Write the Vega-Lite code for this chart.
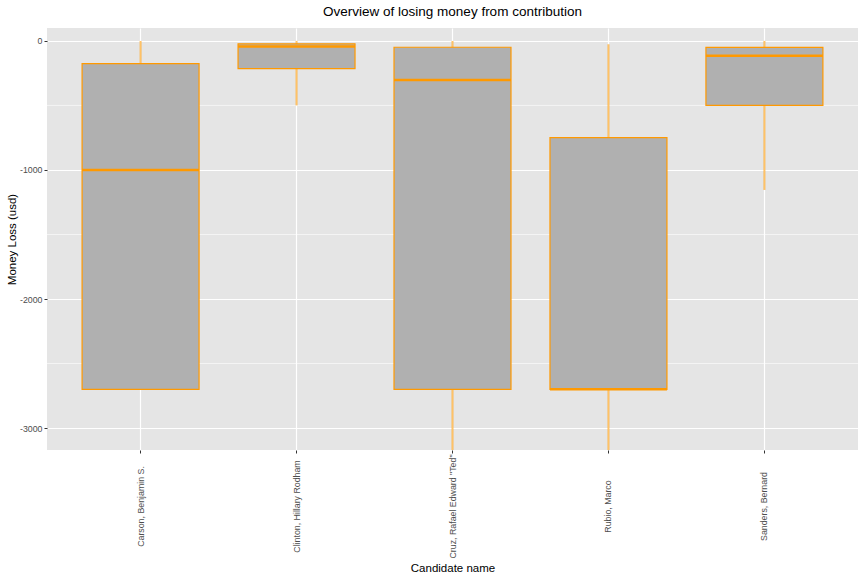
{
  "$schema": "https://vega.github.io/schema/vega-lite/v6.json",
  "width": 811,
  "height": 422,
  "autosize": {"type": "none"},
  "padding": {"left": 47, "top": 28, "right": 6, "bottom": 126},
  "background": "white",
  "title": {"text": "Overview of losing money from contribution", "fontSize": 13.5, "font": "Liberation Sans", "fontWeight": "normal", "color": "black", "anchor": "middle", "offset": 10},
  "config": {
    "view": {"fill": "#E5E5E5", "stroke": null},
    "font": "Liberation Sans",
    "axis": {"titleFont": "Liberation Sans", "labelFont": "Liberation Sans", "titleFontWeight": "normal", "titleFontSize": 11.5, "titleColor": "black", "labelFontSize": 8.8, "labelColor": "#4D4D4D", "tickColor": "#333333", "tickSize": 3, "domain": false, "gridColor": "white", "gridWidth": 1.2, "gridOpacity": 1}
  },
  "datasets": {
    "box": [
      {"candidate": "Carson, Benjamin S.", "lower": -2700, "q1": -2700, "median": -1000, "q3": -176, "upper": 0},
      {"candidate": "Clinton, Hillary Rodham", "lower": -500, "q1": -215, "median": -44, "q3": -23, "upper": 0},
      {"candidate": "Cruz, Rafael Edward \"Ted\"", "lower": -5400, "q1": -2700, "median": -302, "q3": -49, "upper": 0},
      {"candidate": "Rubio, Marco", "lower": -5400, "q1": -2700, "median": -2700, "q3": -750, "upper": -25},
      {"candidate": "Sanders, Bernard", "lower": -1155, "q1": -500, "median": -115, "q3": -50, "upper": 0}
    ],
    "minor": [{"g": -2500}, {"g": -1500}, {"g": -500}]
  },
  "layer": [
    {
      "data": {"name": "minor"},
      "mark": {"type": "rule", "stroke": "white", "strokeWidth": 0.6},
      "encoding": {
        "y": {"field": "g", "type": "quantitative", "scale": {"domain": [-3170, 100], "nice": false, "zero": false}, "axis": {"title": "Money Loss (usd)", "values": [-3000, -2000, -1000, 0], "labelExpr": "'' + datum.value", "grid": true, "titlePadding": 2.5, "labelPadding": 2}}
      }
    },
    {
      "data": {"name": "box"},
      "mark": {"type": "rule", "stroke": "#FF9900", "strokeOpacity": 0.6, "strokeWidth": 2, "clip": true},
      "encoding": {
        "x": {"field": "candidate", "type": "nominal", "sort": null, "scale": {"paddingInner": 0, "paddingOuter": 0.1}, "axis": {"title": "Candidate name", "labelAngle": 270, "labelAlign": "center", "labelBaseline": "middle", "labelPadding": 53, "grid": true, "bandPosition": 0.5, "titlePadding": 4}},
        "y": {"field": "lower", "type": "quantitative"},
        "y2": {"field": "upper"}
      }
    },
    {
      "data": {"name": "box"},
      "mark": {"type": "bar", "fill": "#B0B0B0", "stroke": "#FF9900", "strokeWidth": 1.2, "width": {"band": 0.75}, "clip": true},
      "encoding": {
        "x": {"field": "candidate", "type": "nominal", "sort": null},
        "y": {"field": "q1", "type": "quantitative"},
        "y2": {"field": "q3"}
      }
    },
    {
      "data": {"name": "box"},
      "mark": {"type": "bar", "fill": null, "stroke": "#FF9900", "strokeWidth": 2.5, "width": {"band": 0.75}, "clip": true},
      "encoding": {
        "x": {"field": "candidate", "type": "nominal", "sort": null},
        "y": {"field": "median", "type": "quantitative"},
        "y2": {"field": "median"}
      }
    }
  ]
}
